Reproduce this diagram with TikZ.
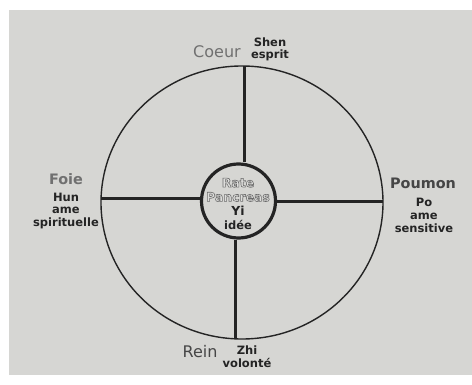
\documentclass[tikz,border=0pt]{standalone}
\usepackage{fontspec}
\setmainfont{DejaVu Sans}
\definecolor{paper}{RGB}{214,214,211}
\definecolor{ink}{RGB}{36,36,36}
\definecolor{organgray}{RGB}{112,112,112}
\definecolor{reingray}{RGB}{70,70,70}
\definecolor{ratefill}{RGB}{222,222,220}
\newcommand{\hollow}[1]{{\color{ratefill}\special{pdf:literal direct 2 Tr 0.6 w 0.42 G}#1\special{pdf:literal direct 0 Tr}}}
\tikzset{
  wheel/.style={x=1pt,y=-1pt},
  organ/.style={organgray,inner sep=0pt,font=\bfseries\fontsize{14.4}{16}\selectfont},
  organlight/.style={inner sep=0pt,font=\fontsize{16}{18}\selectfont},
  spirit/.style={ink,inner sep=0pt,align=center,font=\bfseries\fontsize{11.5}{12.5}\selectfont},
  spoke/.style={ink,line width=3pt},
  core/.style={circle,draw=ink,line width=3.2pt,minimum size=74pt,inner sep=0pt},
}

\begin{document}
\begin{tikzpicture}[wheel]
    \useasboundingbox (0,0) rectangle (472,385);
    \fill[white] (0,0) rectangle (472,385);
    \fill[paper] (9,10) rectangle (472,375);
    % outer wheel and its four ends
    \draw[ink,line width=1.4pt] (242,202.5) ellipse [x radius=141,y radius=136.5];
    \coordinate (ctop)    at (244,66);
    \coordinate (cbottom) at (235.5,339);
    \coordinate (cleft)   at (101,199);
    \coordinate (cright)  at (383,202);
    \node[core] (rate) at (238.5,201) {};
    \draw[spoke] (ctop) -- (ctop |- rate.north);
    \draw[spoke] (cbottom) -- (cbottom |- rate.south);
    \draw[spoke] (cleft) -- (cleft -| rate.west);
    \draw[spoke] (cright) -- (cright -| rate.east);
    % centre
    \node[spirit,font=\bfseries\fontsize{12.4}{14.2}\selectfont] (yi) at (238,204)
      {\hollow{Rate}\\\hollow{Pancreas}\\Yi\\{\fontsize{11.5}{12}\selectfont idée}};
    % organs
    \node[organlight,organgray] (coeur) at (217,52) {Coeur};
    \node[spirit] (shen) at (270,49.5) {Shen\\esprit};
    \node[organ] (foie) at (66,179) {Foie};
    \node[spirit] (hun) at (66,211) {Hun\\ame\\spirituelle};
    \node[organ,reingray] (poumon) at (423,183) {Poumon};
    \node[spirit,font=\bfseries\fontsize{11.5}{13}\selectfont] (po) at (424,215) {Po\\ame\\sensitive};
    \node[organlight,reingray] (rein) at (200,352) {Rein};
    \node[spirit,font=\bfseries\fontsize{11.5}{13}\selectfont] (zhi) at (247,356.5) {Zhi\\volonté};
\end{tikzpicture}
\end{document}
